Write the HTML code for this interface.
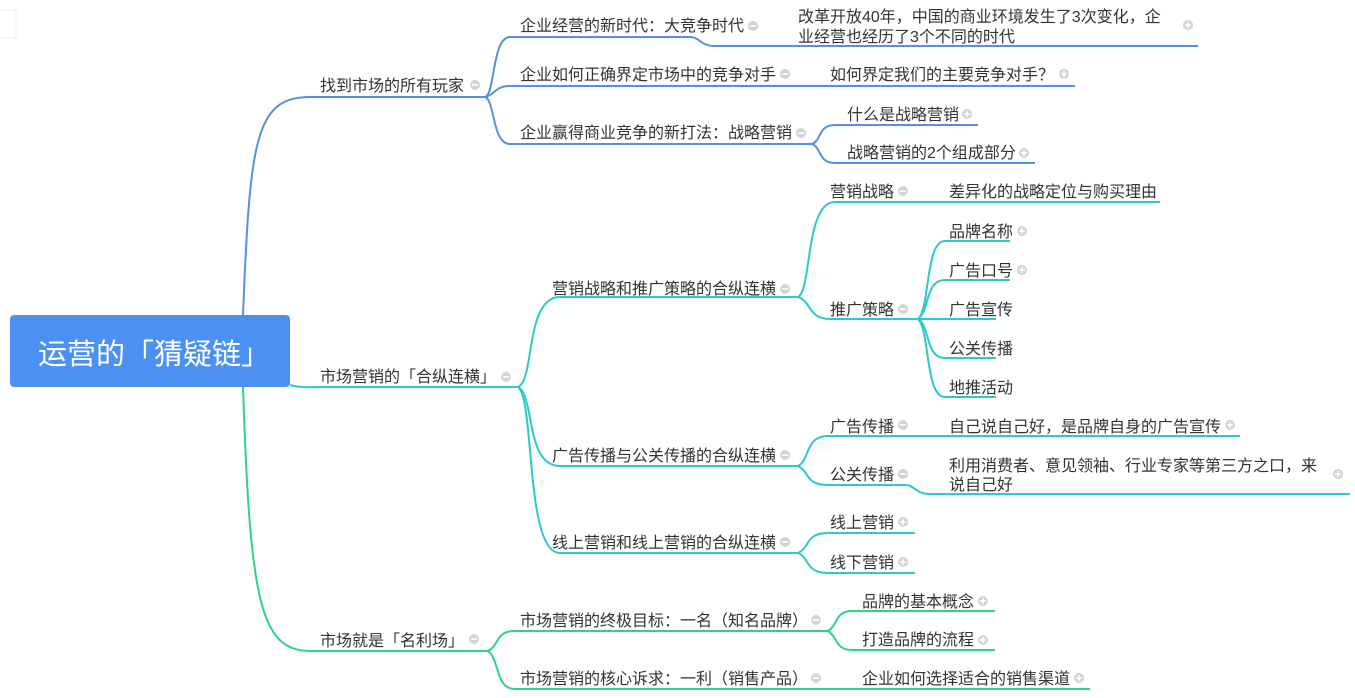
<!DOCTYPE html>
<html><head><meta charset="utf-8"><style>
html,body{margin:0;padding:0;background:#fff;width:1355px;height:698px;overflow:hidden}
svg text{font-family:"Liberation Sans","Noto Sans CJK SC",sans-serif;font-size:16px;fill:#333}
</style></head><body>
<svg width="1355" height="698" viewBox="0 0 1355 698" xmlns="http://www.w3.org/2000/svg">
<defs>
<g id="mi"><circle r="5" fill="#d4d4d4"/><rect x="-3" y="-0.8" width="6" height="1.6" fill="#fff"/></g>
<g id="pl"><circle r="5" fill="#d4d4d4"/><rect x="-3" y="-0.8" width="6" height="1.6" fill="#fff"/><rect x="-0.8" y="-3" width="1.6" height="6" fill="#fff"/></g>
</defs>
<rect x="-2" y="10" width="18" height="28" fill="#fff" stroke="#f0f0f0"/>
<g fill="none" stroke-width="2">
<g stroke="#5590e8">
<path d="M243 315 C250 140 255 97 310 97 L488 97"/>
<path d="M485 97 C495 95 492 37 510 37 L690 37 C700 37 700 46 715 46 L1198 46"/>
<path d="M485 97 C495 95 495 86 510 86 L1075 86"/>
<path d="M485 97 C495 100 492 144 510 144 L815 144"/>
<path d="M812 144 C822 140 818 125 835 125 L978 125"/>
<path d="M812 144 C822 148 818 163 835 163 L1035 163"/>
</g>
<g stroke="#2ec9c9">
<path d="M290 385 C300 388 310 387 320 387 L520 387"/>
<path d="M518 387 C535 380 525 297 560 297 L800 297"/>
<path d="M518 387 C535 395 525 466 560 466 L800 466"/>
<path d="M518 387 C535 400 525 553 560 553 L800 553"/>
<path d="M798 297 C812 290 805 202 835 202 L1160 202"/>
<path d="M798 297 C812 302 808 319 830 319 L920 319"/>
<path d="M918 319 C930 310 925 241 945 241 L1010 241"/>
<path d="M918 319 C930 310 925 280 945 280 L1010 280"/>
<path d="M918 319 L996 319"/>
<path d="M918 319 C930 325 925 358 945 358 L996 358"/>
<path d="M918 319 C930 330 925 397 945 397 L996 397"/>
<path d="M798 466 C810 460 805 436 828 436 L1240 436"/>
<path d="M798 466 C810 472 805 485 828 485 L905 485 C915 485 915 494 930 494 L1350 494"/>
<path d="M798 553 C810 548 805 533 828 533 L915 533"/>
<path d="M798 553 C810 558 805 573 828 573 L915 573"/>
</g>
<g stroke="#2fd386">
<path d="M243 387 C250 600 260 651 310 651 L490 651"/>
<path d="M488 651 C500 645 495 631 515 631 L830 631"/>
<path d="M488 651 C500 660 495 689 515 689 L1090 689"/>
<path d="M828 631 C838 625 835 611 852 611 L995 611"/>
<path d="M828 631 C838 637 835 650 852 650 L995 650"/>
</g>
</g>
<rect x="10" y="315" width="280" height="72" rx="4" fill="#4b91f3"/>
<text x="38" y="364" style="font-size:29px;fill:#fff">运营的「猜疑链」</text>

<text x="320" y="91">找到市场的所有玩家</text><use href="#mi" x="475" y="85"/>
<text x="320" y="382">市场营销的「合纵连横」</text><use href="#mi" x="506" y="377"/>
<text x="320" y="646">市场就是「名利场」</text><use href="#mi" x="474" y="639"/>

<text x="520" y="31">企业经营的新时代：大竞争时代</text><use href="#mi" x="753" y="26"/>
<text x="798" y="22">改革开放40年，中国的商业环境发生了3次变化，企</text>
<text x="798" y="42">业经营也经历了3个不同的时代</text><use href="#pl" x="1188" y="25"/>
<text x="520" y="80">企业如何正确界定市场中的竞争对手</text><use href="#mi" x="785" y="74"/>
<text x="830" y="80">如何界定我们的主要竞争对手？</text><use href="#pl" x="1064" y="74"/>
<text x="520" y="138">企业赢得商业竞争的新打法：战略营销</text><use href="#mi" x="801" y="133"/>
<text x="847" y="120">什么是战略营销</text><use href="#pl" x="967" y="114"/>
<text x="847" y="158">战略营销的2个组成部分</text><use href="#pl" x="1024" y="153"/>

<text x="552" y="294">营销战略和推广策略的合纵连横</text><use href="#mi" x="785" y="289"/>
<text x="830" y="197">营销战略</text><use href="#mi" x="903" y="191"/>
<text x="949" y="197">差异化的战略定位与购买理由</text>
<text x="830" y="315">推广策略</text><use href="#mi" x="903" y="309"/>
<text x="949" y="237">品牌名称</text><use href="#pl" x="1022" y="231"/>
<text x="949" y="276">广告口号</text><use href="#pl" x="1022" y="270"/>
<text x="949" y="315">广告宣传</text>
<text x="949" y="354">公关传播</text>
<text x="949" y="393">地推活动</text>
<text x="552" y="461">广告传播与公关传播的合纵连横</text><use href="#mi" x="785" y="455"/>
<text x="830" y="432">广告传播</text><use href="#mi" x="903" y="425"/>
<text x="949" y="432">自己说自己好，是品牌自身的广告宣传</text><use href="#pl" x="1230" y="425"/>
<text x="830" y="480">公关传播</text><use href="#mi" x="903" y="474"/>
<text x="949" y="471">利用消费者、意见领袖、行业专家等第三方之口，来</text>
<text x="949" y="490">说自己好</text><use href="#pl" x="1338" y="474"/>
<text x="552" y="548">线上营销和线上营销的合纵连横</text><use href="#mi" x="785" y="542"/>
<text x="830" y="528">线上营销</text><use href="#pl" x="903" y="522"/>
<text x="830" y="568">线下营销</text><use href="#pl" x="903" y="562"/>

<text x="520" y="626">市场营销的终极目标：一名（知名品牌）</text><use href="#mi" x="816" y="620"/>
<text x="862" y="607">品牌的基本概念</text><use href="#pl" x="983" y="601"/>
<text x="862" y="645">打造品牌的流程</text><use href="#pl" x="983" y="640"/>
<text x="520" y="684">市场营销的核心诉求：一利（销售产品）</text><use href="#mi" x="816" y="678"/>
<text x="862" y="684">企业如何选择适合的销售渠道</text><use href="#pl" x="1079" y="678"/>
</svg>
</body></html>
